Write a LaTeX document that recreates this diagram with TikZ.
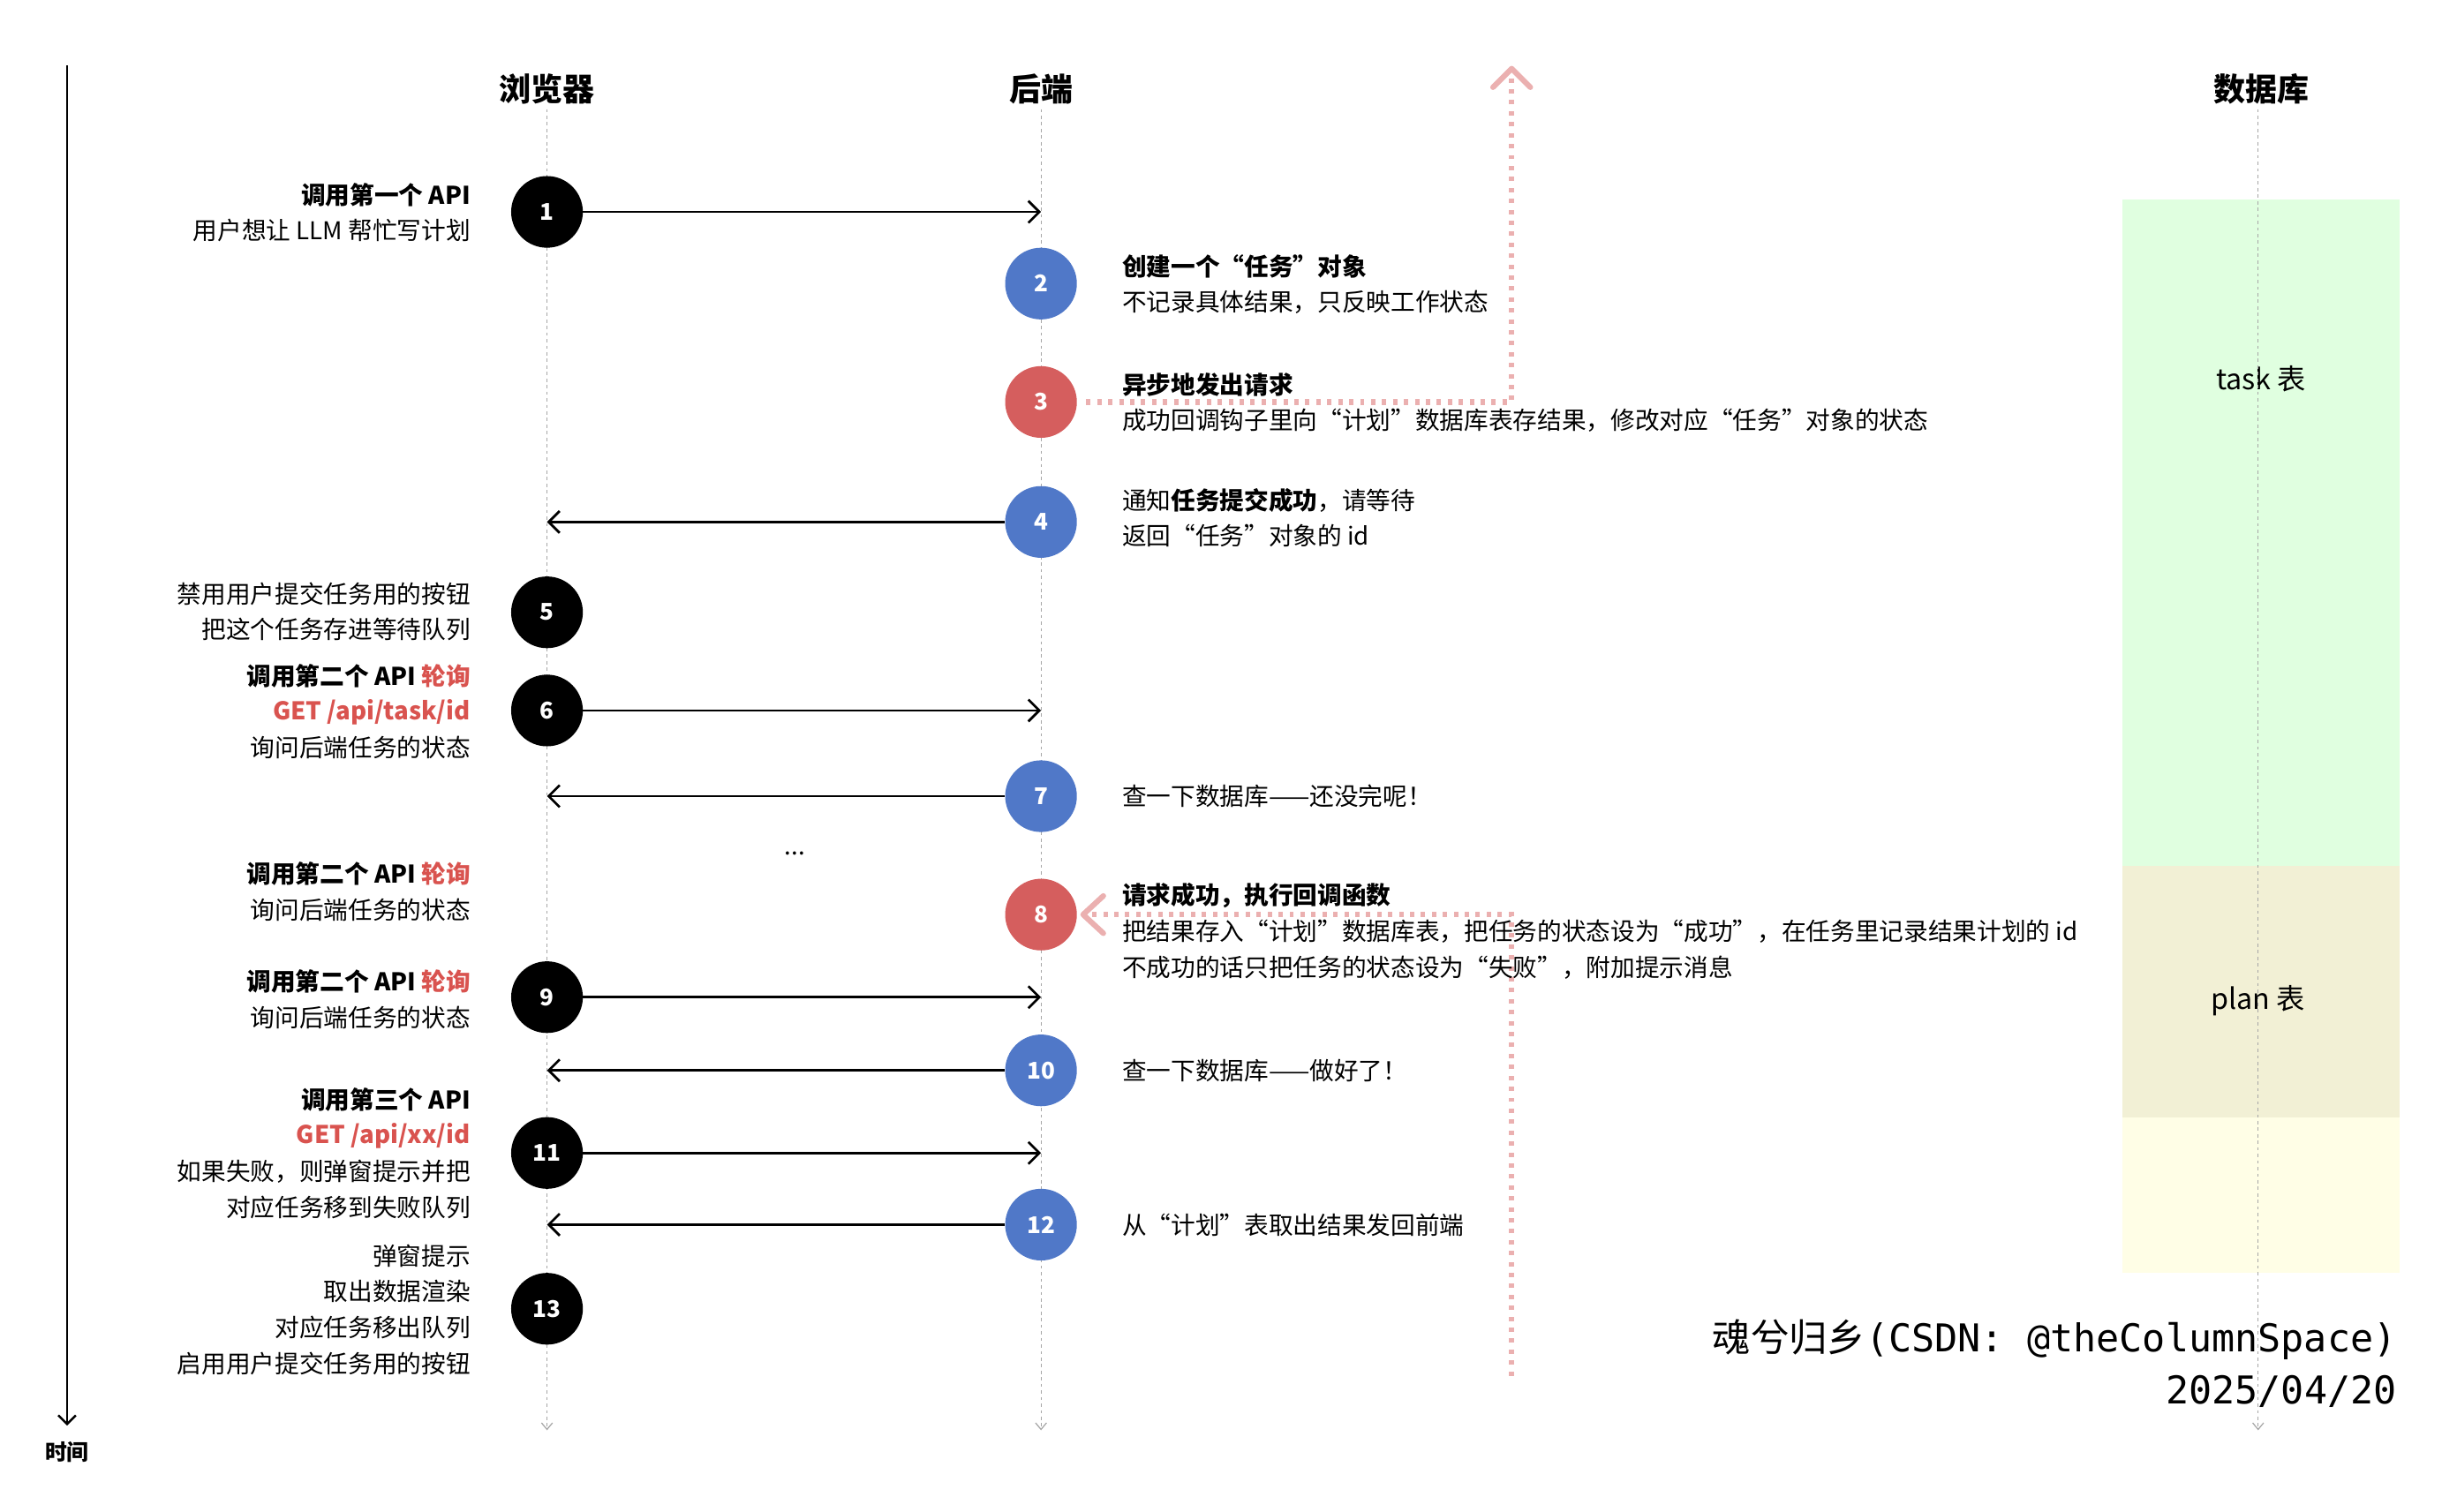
\documentclass[tikz,border=0pt]{standalone}
\usepackage{fontspec}
\setmainfont{Noto Sans CJK SC}
\newfontfamily\monof{DejaVu Sans Mono}
\newfontfamily\cjkf{Noto Sans CJK SC}
\usetikzlibrary{arrows.meta}
\definecolor{lred}{HTML}{D55E5E}
\definecolor{lblue}{HTML}{5078C8}
\definecolor{pinkd}{HTML}{EBB0B0}
\definecolor{redt}{HTML}{D9534F}
\tikzset{
 x=0.05cm,y=-0.05cm,
 txt/.style={font=\fontsize{22.3}{25}\selectfont,inner sep=0pt},
 bt/.style={font=\fontsize{22.3}{25}\selectfont\bfseries},
 lt/.style={txt,anchor=east},
 rt/.style={txt,anchor=west},
 hdr/.style={font=\fontsize{29}{32}\selectfont\bfseries,inner sep=0pt},
 life/.style={gray!70,dashed,line width=1pt,-{Straight Barb[length=6pt,width=10pt]}},
 circ/.style={circle,minimum size=46*0.05cm,inner sep=0pt,text=white,font=\fontsize{21}{22}\selectfont\bfseries},
 bk/.style={circ,fill=black},
 bl/.style={circ,fill=lblue},
 rd/.style={circ,fill=lred},
 msg/.style={line width=2.2pt,-{Straight Barb[length=10pt,width=20pt,line width=2.2pt]}},
 pk/.style={pinkd,line width=5pt,dash pattern=on 4pt off 6pt},
}
\begin{document}
\begin{tikzpicture}
\useasboundingbox (0,0) rectangle (1567,970);
% db boxes
\fill[green!12!white] (1362,128) rectangle (1540,556);
\fill[olive!12!white] (1362,556) rectangle (1540,717);
\fill[yellow!10!white] (1362,717) rectangle (1540,817);
\node[txt,font=\fontsize{26}{28}\selectfont] (tt) at (1451,243) {task 表};
\node[txt,font=\fontsize{26}{28}\selectfont] (pt) at (1449,642) {plan 表};
% headers
\node[hdr] (hb) at (351,57) {浏览器};
\node[hdr] (hs) at (668,57) {后端};
\node[hdr] (hd) at (1451,57) {数据库};
\coordinate (bs) at (351,70); \coordinate (be) at (351,918);
\coordinate (ss) at (668,70); \coordinate (se) at (668,918);
\coordinate (ds) at (1449,70); \coordinate (de) at (1449,918);
\draw[life] (bs) -- (be);
\draw[life] (ss) -- (se);
\draw[life] (ds) -- (de);
% time axis
\coordinate (t0) at (43,42); \coordinate (t1) at (43,915);
\draw[line width=2pt,-{Straight Barb[length=8pt,width=16pt,line width=2pt]}] (t0) -- (t1);
\node[txt,font=\fontsize{20}{22}\selectfont\bfseries] (time) at (43,932) {时间};
% pink dotted
\coordinate (p3) at (697,258); \coordinate (pc) at (970,258); \coordinate (ptop) at (970,45);
\draw[pk] (p3) -- (pc) -- (ptop);
\draw[pinkd,line width=5pt,line cap=round,line join=round] (958,56) -- (970,44) -- (982,56);
\coordinate (pb) at (970,883); \coordinate (pm) at (970,587); \coordinate (p8) at (700,587);
\draw[pk] (pb) -- (pm) -- (p8);
\draw[pinkd,line width=5pt,line cap=round,line join=round] (708,575) -- (695,587) -- (708,599);
% circles
\node[bk] (c1) at (351,136) {1};
\node[bl] (c2) at (668,182) {2};
\node[rd] (c3) at (668,258) {3};
\node[bl] (c4) at (668,335) {4};
\node[bk] (c5) at (351,393) {5};
\node[bk] (c6) at (351,456) {6};
\node[bl] (c7) at (668,511) {7};
\node[rd] (c8) at (668,587) {8};
\node[bk] (c9) at (351,640) {9};
\node[bl] (c10) at (668,687) {10};
\node[bk] (c11) at (351,740) {11};
\node[bl] (c12) at (668,786) {12};
\node[bk] (c13) at (351,840) {13};
% arrows
\coordinate (a1) at (668,136); \draw[msg] (c1) -- (a1);
\coordinate (a4) at (351,335); \draw[msg] (c4) -- (a4);
\coordinate (a6) at (668,456); \draw[msg] (c6) -- (a6);
\coordinate (a7) at (351,511); \draw[msg] (c7) -- (a7);
\coordinate (a9) at (668,640); \draw[msg] (c9) -- (a9);
\coordinate (a10) at (351,687); \draw[msg] (c10) -- (a10);
\coordinate (a11) at (668,740); \draw[msg] (c11) -- (a11);
\coordinate (a12) at (351,786); \draw[msg] (c12) -- (a12);
\node[txt] (dots) at (510,548) {...};
% left texts
\node[lt,bt] (l1a) at (302,125) {调用第一个 API};
\node[lt] (l1b) at (302,148) {用户想让 LLM 帮忙写计划};
\node[lt] (l5a) at (302,381) {禁用用户提交任务用的按钮};
\node[lt] (l5b) at (302,404) {把这个任务存进等待队列};
\node[lt,bt] (l6a) at (302,434) {调用第二个 API \textcolor{redt}{轮询}};
\node[lt,bt,text=redt] (l6b) at (302,457) {GET /api/task/id};
\node[lt] (l6c) at (302,480) {询问后端任务的状态};
\node[lt,bt] (l8a) at (302,561) {调用第二个 API \textcolor{redt}{轮询}};
\node[lt] (l8b) at (302,584) {询问后端任务的状态};
\node[lt,bt] (l9a) at (302,630) {调用第二个 API \textcolor{redt}{轮询}};
\node[lt] (l9b) at (302,653) {询问后端任务的状态};
\node[lt,bt] (l11a) at (302,706) {调用第三个 API};
\node[lt,bt,text=redt] (l11b) at (302,729) {GET /api/xx/id};
\node[lt] (l11c) at (302,752) {如果失败，则弹窗提示并把};
\node[lt] (l11d) at (302,775) {对应任务移到失败队列};
\node[lt] (l13a) at (302,806) {弹窗提示};
\node[lt] (l13b) at (302,829) {取出数据渲染};
\node[lt] (l13c) at (302,852) {对应任务移出队列};
\node[lt] (l13d) at (302,875) {启用用户提交任务用的按钮};
% right texts
\node[rt,bt] (r2a) at (720,171) {创建一个“任务”对象};
\node[rt] (r2b) at (720,194) {不记录具体结果，只反映工作状态};
\node[rt,bt] (r3a) at (720,247) {异步地发出请求};
\node[rt] (r3b) at (720,270) {成功回调钩子里向“计划”数据库表存结果，修改对应“任务”对象的状态};
\node[rt] (r4a) at (720,321) {通知\textbf{任务提交成功}，请等待};
\node[rt] (r4b) at (720,344) {返回“任务”对象的 id};
\node[rt] (r7) at (720,511) {查一下数据库——还没完呢！};
\node[rt,bt] (r8a) at (720,575) {请求成功，执行回调函数};
\node[rt] (r8b) at (720,598) {把结果存入“计划”数据库表，把任务的状态设为“成功”，在任务里记录结果计划的 id};
\node[rt] (r8c) at (720,621) {不成功的话只把任务的状态设为“失败”，附加提示消息};
\node[rt] (r10) at (720,687) {查一下数据库——做好了！};
\node[rt] (r12) at (720,786) {从“计划”表取出结果发回前端};
% signature
\node[inner sep=0pt,anchor=east,font=\fontsize{35}{38}\selectfont] (sig1) at (1538,860) {\cjkf 魂兮归乡\monof(CSDN: @theColumnSpace)};
\node[inner sep=0pt,anchor=east,font=\fontsize{35}{38}\selectfont\monof] (sig2) at (1538,893) {2025/04/20};
\end{tikzpicture}
\end{document}
